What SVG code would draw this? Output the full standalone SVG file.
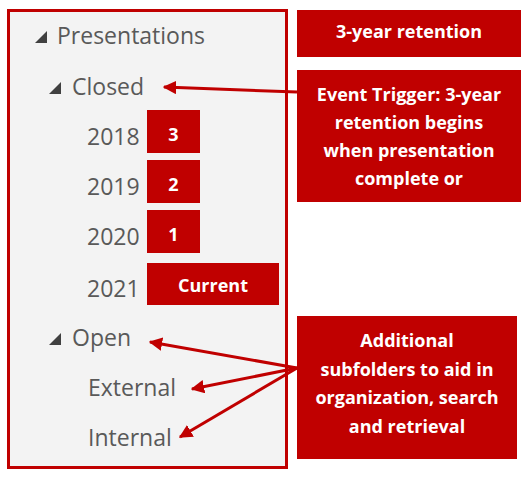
<svg xmlns="http://www.w3.org/2000/svg" width="526" height="480" viewBox="0 0 526 480">
<defs>
<style>
.tree{font-family:"Open Sans","Noto Sans",sans-serif;font-size:23px;fill:#595959}
.lbl{font-family:"Open Sans","Noto Sans",sans-serif;font-weight:bold;font-size:18px;fill:#ffffff;text-anchor:middle}
.box{fill:#c00000}
.tri{fill:#404040}
.conn{stroke:#c00000;stroke-width:3;fill:none}
</style>
<marker id="ah" viewBox="0 0 10 10" refX="9" refY="5" markerWidth="4.5" markerHeight="4.5" orient="auto" markerUnits="strokeWidth">
<path d="M0,0 L10,5 L0,10 z" fill="#c00000"/>
</marker>
</defs>
<rect width="526" height="480" fill="#ffffff"/>
<g id="panel">
<rect x="8.5" y="10.5" width="278" height="457" fill="#f3f3f3" stroke="#c00000" stroke-width="3"/>
</g>
<g id="presentations">
<path class="tri" d="M35,43 L47,31 L47,43 z"/>
<text class="tree" x="57" y="44">Presentations</text>
</g>
<g id="closed">
<path class="tri" d="M49,94 L61,82 L61,94 z"/>
<text class="tree" x="72" y="95">Closed</text>
</g>
<g id="y2018">
<text class="tree" x="87" y="145">2018</text>
<rect class="box" x="147" y="110" width="53" height="43"/>
<text class="lbl" x="173.5" y="141">3</text>
</g>
<g id="y2019">
<text class="tree" x="87" y="195">2019</text>
<rect class="box" x="147" y="160" width="53" height="43"/>
<text class="lbl" x="173.5" y="191">2</text>
</g>
<g id="y2020">
<text class="tree" x="87" y="245">2020</text>
<rect class="box" x="147" y="210" width="53" height="43"/>
<text class="lbl" x="173.5" y="241">1</text>
</g>
<g id="y2021">
<text class="tree" x="87" y="297">2021</text>
<rect class="box" x="147" y="263" width="132" height="42"/>
<text class="lbl" x="213" y="292">Current</text>
</g>
<g id="open">
<path class="tri" d="M49,345 L61,333 L61,345 z"/>
<text class="tree" x="72" y="346">Open</text>
</g>
<g id="external">
<text class="tree" x="88" y="396">External</text>
</g>
<g id="internal">
<text class="tree" x="88" y="446">Internal</text>
</g>
<g id="retention">
<rect class="box" x="297" y="10" width="224" height="47"/>
<text class="lbl" x="409" y="38">3-year retention</text>
</g>
<g id="trigger">
<rect class="box" x="297" y="70" width="224" height="132"/>
<text class="lbl" x="409" y="101">Event Trigger: 3-year</text>
<text class="lbl" x="409" y="129">retention begins</text>
<text class="lbl" x="409" y="157">when presentation</text>
<text class="lbl" x="409" y="185">complete or</text>
</g>
<g id="subfolders">
<rect class="box" x="297" y="316" width="220" height="143"/>
<text class="lbl" x="407" y="347">Additional</text>
<text class="lbl" x="407" y="376">subfolders to aid in</text>
<text class="lbl" x="407" y="404">organization, search</text>
<text class="lbl" x="407" y="433">and retrieval</text>
</g>
<g id="connectors">
<line class="conn" x1="297" y1="92" x2="164" y2="87" marker-end="url(#ah)"/>
<line class="conn" x1="297" y1="368" x2="150" y2="342" marker-end="url(#ah)"/>
<line class="conn" x1="297" y1="368" x2="192" y2="389" marker-end="url(#ah)"/>
<line class="conn" x1="297" y1="368" x2="180" y2="437" marker-end="url(#ah)"/>
</g>
</svg>
